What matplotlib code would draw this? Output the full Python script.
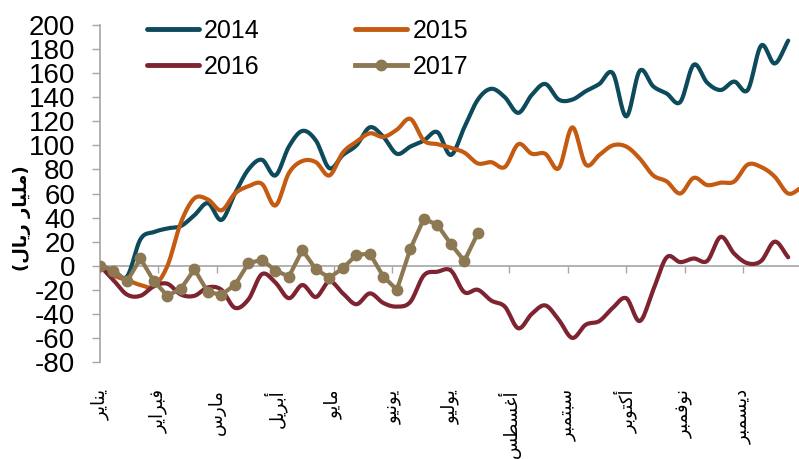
import numpy as np
import matplotlib
matplotlib.use('Agg')
import matplotlib.pyplot as plt
from matplotlib.lines import Line2D

# weekly cumulative change, billion riyals
vals_2014 = [0, -4, -9, 22, 28, 31, 33, 42, 52, 38, 60, 80, 88, 75, 99, 112, 104, 81, 92, 100,
             115, 107, 93, 99, 104, 111, 92, 115, 138, 147, 140, 127, 142, 151, 138, 138, 145, 151,
             160, 124, 162, 149, 143, 136, 167, 152, 146, 153, 146, 183, 168, 187]
vals_2015 = [0, -8, -12, -16, -17, 0, 36, 56, 55, 46, 60, 66, 68, 50, 77, 87, 86, 75, 94, 103,
             110, 107, 113, 122, 104, 101, 98, 94, 85, 86, 82, 101, 93, 93, 81, 115, 84, 92, 100,
             99, 89, 75, 70, 60, 73, 67, 69, 70, 84, 82, 74, 60, 65]
vals_2016 = [0, -12, -24, -25, -17, -15, -24, -25, -18, -20, -35, -28, -7, -14, -27, -16, -26, -13,
             -23, -32, -23, -31, -34, -30, -8, -5, -4, -22, -20, -29, -34, -52, -40, -33, -45, -60,
             -49, -46, -35, -27, -46, -20, 7, 3, 6, 4, 24, 10, 2, 4, 20, 7]
vals_2017 = [0, -4, -13, 6, -13, -25, -19, -3, -22, -24, -16, 2, 5, -4, -9, 13, -3, -10, -2, 9,
             10, -9, -20, 14, 39, 34, 18, 4, 27]

months = ['يناير', 'فبراير', 'مارس', 'أبريل', 'مايو', 'يونيو', 'يوليو',
          'أغسطس', 'سبتمبر', 'أكتوبر', 'نوفمبر', 'ديسمبر']
y_label = '(مليار ريال)'

# --- arabic shaping (matplotlib has no complex text layout) ---
FORMS = {
    'ا': ('\uFE8D', '\uFE8E'), 'أ': ('\uFE83', '\uFE84'), 'د': ('\uFEA9', '\uFEAA'),
    'ر': ('\uFEAD', '\uFEAE'), 'و': ('\uFEED', '\uFEEE'),
    'ب': ('\uFE8F', '\uFE90', '\uFE91', '\uFE92'), 'ت': ('\uFE95', '\uFE96', '\uFE97', '\uFE98'),
    'س': ('\uFEB1', '\uFEB2', '\uFEB3', '\uFEB4'), 'ط': ('\uFEC1', '\uFEC2', '\uFEC3', '\uFEC4'),
    'غ': ('\uFECD', '\uFECE', '\uFECF', '\uFED0'), 'ف': ('\uFED1', '\uFED2', '\uFED3', '\uFED4'),
    'ك': ('\uFED9', '\uFEDA', '\uFEDB', '\uFEDC'), 'ل': ('\uFEDD', '\uFEDE', '\uFEDF', '\uFEE0'),
    'م': ('\uFEE1', '\uFEE2', '\uFEE3', '\uFEE4'), 'ن': ('\uFEE5', '\uFEE6', '\uFEE7', '\uFEE8'),
    'ي': ('\uFEF1', '\uFEF2', '\uFEF3', '\uFEF4'),
}
MIRROR = {'(': ')', ')': '('}

def shape(s):
    out = []
    for i, c in enumerate(s):
        if c not in FORMS:
            out.append(c)
            continue
        prev = s[i - 1] if i > 0 else ''
        nxt = s[i + 1] if i + 1 < len(s) else ''
        jp = prev in FORMS and len(FORMS[prev]) == 4
        jn = len(FORMS[c]) == 4 and nxt in FORMS
        f = FORMS[c]
        if jp and jn:
            out.append(f[3])
        elif jp:
            out.append(f[1])
        elif jn:
            out.append(f[2])
        else:
            out.append(f[0])
    return ''.join(MIRROR.get(c, c) for c in reversed(out))

# excel-style smoothed line drawing (catmull-rom through the points)
def smooth(y, n=12):
    y = np.asarray(y, float)
    x = np.arange(len(y), dtype=float)
    xp = np.concatenate([[2 * x[0] - x[1]], x, [2 * x[-1] - x[-2]]])
    yp = np.concatenate([[2 * y[0] - y[1]], y, [2 * y[-1] - y[-2]]])
    t = np.linspace(0, 1, n, endpoint=False)[:, None]
    def cr(p):
        p0, p1, p2, p3 = p[:-3], p[1:-2], p[2:-1], p[3:]
        return 0.5 * (2 * p1 + (-p0 + p2) * t + (2 * p0 - 5 * p1 + 4 * p2 - p3) * t ** 2
                      + (-p0 + 3 * p1 - 3 * p2 + p3) * t ** 3)
    xs = cr(xp).T.ravel()
    ys = cr(yp).T.ravel()
    return np.append(xs, x[-1]), np.append(ys, y[-1])

c14, c15, c16, c17 = '#0d4a5c', '#c55a11', '#7e2330', '#8c7853'
grey = '#a6a6a6'

plt.rcParams['font.family'] = ['Liberation Sans', 'DejaVu Sans']
plt.rcParams['axes.unicode_minus'] = False

fig = plt.figure(figsize=(7.99, 4.59), dpi=100)
ax = fig.add_axes([100 / 799, 97 / 459, 699 / 799, 337 / 459])

# spine position first: moving it resets the ticks
for s in ['top', 'right']:
    ax.spines[s].set_visible(False)
ax.spines['bottom'].set_position(('data', 0))
ax.spines['bottom'].set_color(grey)
ax.spines['bottom'].set_linewidth(1.2)
ax.spines['left'].set_color(grey)
ax.spines['left'].set_linewidth(1.2)

ax.plot(*smooth(vals_2014), color=c14, lw=3, solid_capstyle='round', zorder=3)
ax.plot(*smooth(vals_2015), color=c15, lw=3, solid_capstyle='round', zorder=3)
ax.plot(*smooth(vals_2016), color=c16, lw=3, solid_capstyle='round', zorder=3)
ax.plot(np.arange(len(vals_2017)), vals_2017, color=c17, lw=3, marker='o', ms=7.5, zorder=4)

ax.set_xlim(0, 51.8)
ax.set_ylim(-80, 200)
ax.set_yticks(range(-80, 201, 20))
ax.tick_params(axis='y', labelsize=20, length=6, width=1, color=grey, pad=12)

ticks = [k * 52 / 12 for k in range(12)]
ax.set_xticks(ticks)
ax.set_xticklabels([shape(m) for m in months], fontsize=13, family='DejaVu Sans')
ax.tick_params(axis='x', length=5, width=1, color=grey, pad=84, labelrotation=90)
for lab in ax.get_xticklabels():
    lab.set_va('top')
    lab.set_ha('center')

fig.text(22 / 799, 1 - 218 / 459, shape(y_label), rotation=90, ha='center', va='center',
         fontsize=13, family='DejaVu Sans', fontweight='bold')

h14 = Line2D([], [], color=c14, lw=3.5, solid_capstyle='round')
h15 = Line2D([], [], color=c15, lw=3.5, solid_capstyle='round')
h16 = Line2D([], [], color=c16, lw=3.5, solid_capstyle='round')
h17 = Line2D([], [], color=c17, lw=3.5, marker='o', ms=7.5)
fig.legend([h14, h16, h15, h17], ['2014', '2016', '2015', '2017'], ncol=2,
           loc='upper left', bbox_to_anchor=(134 / 799, 1 - 6 / 459), frameon=False,
           fontsize=18, borderpad=0, handlelength=2.1, handletextpad=0.2,
           columnspacing=3.8, labelspacing=0.5)

fig.savefig('out.png', dpi=100)
